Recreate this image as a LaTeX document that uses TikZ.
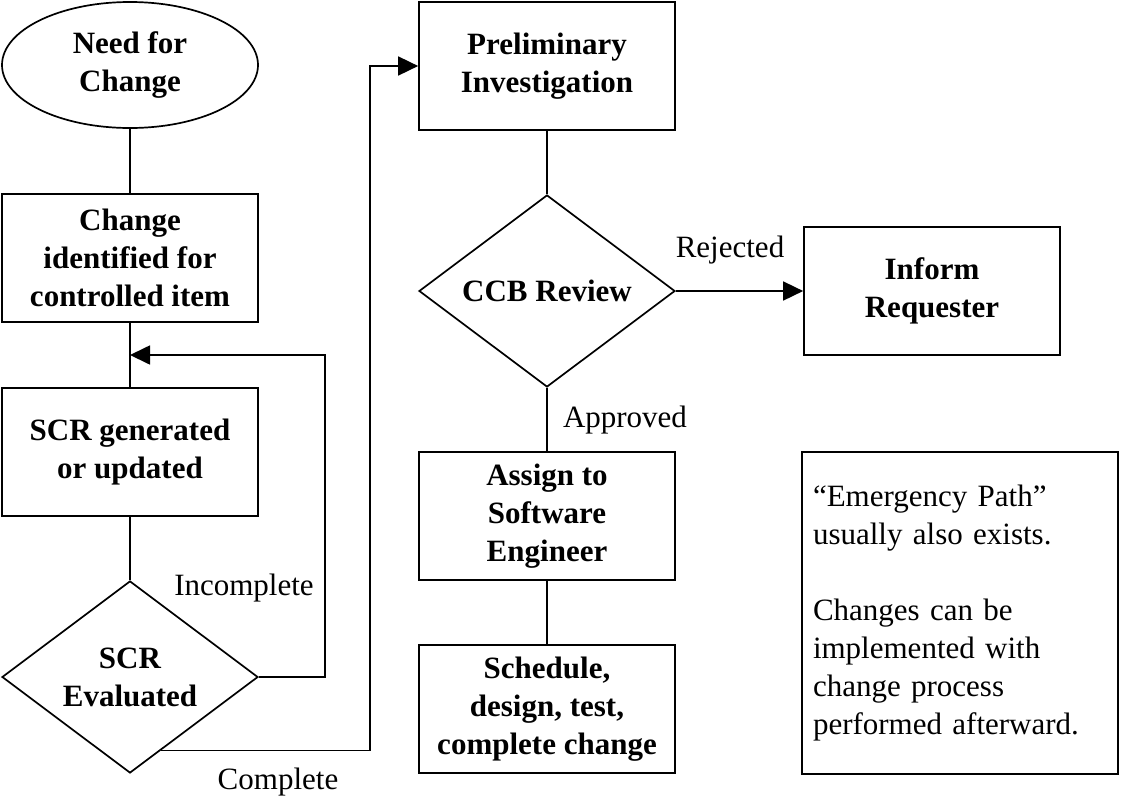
\documentclass[tikz,border=0pt]{standalone}
\usepackage{fontspec}
\setmainfont{Liberation Serif}
\usetikzlibrary{arrows.meta}
\usetikzlibrary{shapes.geometric}
\usetikzlibrary{calc}

\begin{document}
\begin{tikzpicture}[x=1pt,y=-1pt,line width=1.7pt,
  >={Triangle[length=20pt,width=19pt]},
  block/.style={rectangle,draw=black,minimum width=256pt,minimum height=128pt,
    align=center,font=\fontsize{31}{38}\selectfont\bfseries},
  start/.style={ellipse,draw=black,minimum width=256pt,minimum height=126pt,
    inner sep=0pt,align=center,font=\fontsize{31}{38}\selectfont\bfseries},
  decision/.style={diamond,draw=black,aspect=1.33,minimum width=256pt,
    minimum height=192pt,inner sep=0pt,align=center,
    font=\fontsize{31}{38}\selectfont\bfseries},
  tag/.style={font=\fontsize{31}{38}\selectfont}]
\useasboundingbox (0,0) rectangle (1126,801);
\node at (130,  65) (need)   [start]    {Need for\\Change};
\node at (130, 258) (chg)    [block]    {Change\\identified for\\controlled item};
\node at (130, 452) (scr)    [block]    {SCR generated\\or updated};
\node at (130, 677) (eval)   [decision] {SCR\\Evaluated};
\node at (547,  66) (prelim) [block]    {Preliminary\\Investigation};
\node at (547, 291) (ccb)    [decision] {CCB Review};
\node at (932, 291) (inform) [block]    {Inform\\Requester};
\node at (547, 516) (assign) [block]    {Assign to\\Software\\Engineer};
\node at (547, 709) (sched)  [block]    {Schedule,\\design, test,\\complete change};
\node at (960, 613) (note) [draw=black,minimum height=322pt,text width=294pt,
  inner xsep=11pt,align=left,font=\fontsize{31}{38}\selectfont]
  {“Emergency Path”\\usually also exists.\\[38pt]Changes can be\\implemented with\\change process\\performed afterward.};
\coordinate (join) at ($(chg.south)!0.5!(scr.north)$);
\coordinate (out) at ($(eval.south)!0.24!(eval.east)$);
\draw (need) -- (chg);
\draw (chg) -- (scr);
\draw (scr) -- (eval);
\draw [->] (eval.east) -- ++(66,0) |- (join);
\draw [->] (out) -- ++(209,0) |- (prelim.west);
\draw (prelim) -- (ccb);
\draw [->] (ccb.east) -- (inform.west);
\draw (ccb) -- (assign);
\draw (assign) -- (sched);
\node at (244, 588) (incomplete) [tag] {Incomplete};
\node at (278, 782) (complete)   [tag] {Complete};
\node at (730, 250) (rejected)   [tag] {Rejected};
\node at (625, 420) (approved)   [tag] {Approved};
\end{tikzpicture}
\end{document}
